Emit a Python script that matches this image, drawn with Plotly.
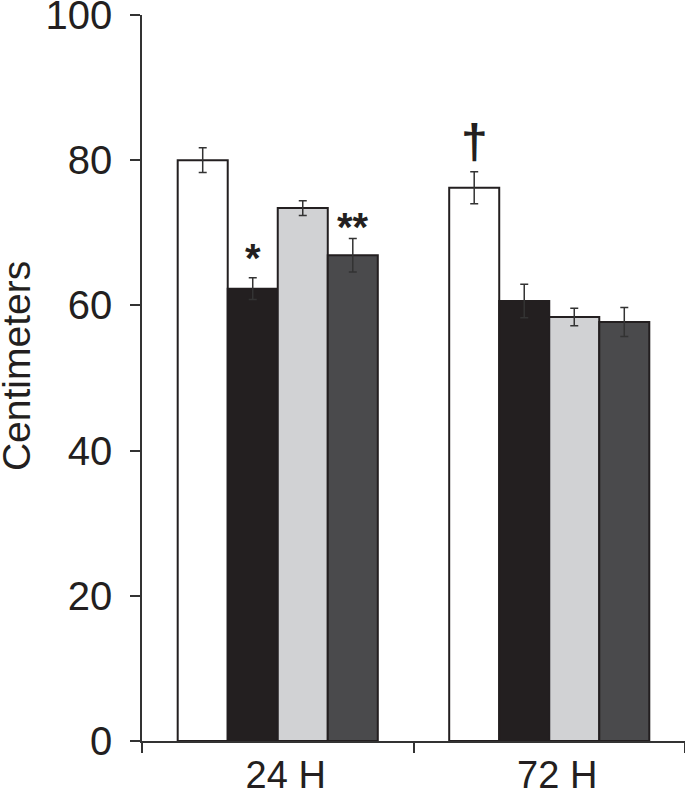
import plotly.graph_objects as go

categories = ["24 H", "72 H"]
series_names = ["Series A", "Series B", "Series C", "Series D"]
values = {
    "Series A": [80.0, 76.2],
    "Series B": [62.3, 60.6],
    "Series C": [73.4, 58.4],
    "Series D": [66.9, 57.7],
}
errors = {
    "Series A": [1.7, 2.2],
    "Series B": [1.5, 2.3],
    "Series C": [1.0, 1.2],
    "Series D": [2.3, 2.0],
}
colors = ["#ffffff", "#231f20", "#d1d2d4", "#4a4a4c"]
y_ticks = [0, 20, 40, 60, 80, 100]
# significance marks: (series index, category index, text)
marks = [(1, 0, "*"), (3, 0, "**"), (0, 1, "†")]

FONT = "Liberation Sans, Arial, Helvetica, sans-serif"
bargap = 0.263
mark_style = {"*": (40, -4), "**": (40, -12), "†": (48, 2)}  # (font size, yshift px)

fig = go.Figure()
for name, col in zip(series_names, colors):
    fig.add_trace(go.Bar(
        x=categories, y=values[name], name=name,
        marker=dict(color=col, line=dict(color="#231f20", width=2)),
        error_y=dict(type="data", array=errors[name], color="#333333",
                     thickness=1.5, width=4),
        showlegend=False, cliponaxis=False,
    ))

n = len(series_names)
gw = 1 - bargap
for si, ci, txt in marks:
    xc = ci - gw / 2 + (si + 0.5) * gw / n
    yv = values[series_names[si]][ci] + errors[series_names[si]][ci]
    fsize, ysh = mark_style[txt]
    fig.add_annotation(
        x=xc, y=yv, xref="x", yref="y", text="<b>" + txt + "</b>", showarrow=False,
        yanchor="bottom", yshift=ysh,
        font=dict(family=FONT, size=fsize, color="#231f20"),
    )

fig.add_annotation(
    x=-0.232, y=0.5165, xref="paper", yref="paper", text="Centimeters",
    textangle=-90, showarrow=False, xanchor="center", yanchor="middle",
    font=dict(family=FONT, size=39, color="#231f20"),
)

fig.update_layout(
    width=685, height=792,
    margin=dict(l=142, r=0, t=15, b=51, autoexpand=False),
    paper_bgcolor="white", plot_bgcolor="white",
    barmode="group", bargap=bargap, bargroupgap=0,
    font=dict(family=FONT, size=40, color="#231f20"),
)
fig.update_xaxes(
    type="category", range=[-0.5, 1.5], tickson="boundaries",
    showline=True, linecolor="#333333", linewidth=1.5,
    ticks="outside", ticklen=10, tickwidth=1.5, tickcolor="#333333",
    showgrid=False, zeroline=False, ticklabelshift=8, ticklabelstandoff=0,
    automargin=False,
    tickfont=dict(family=FONT, size=38, color="#231f20"),
)
fig.update_yaxes(
    range=[0, 100], tickvals=y_ticks,
    showline=True, linecolor="#333333", linewidth=1.5,
    ticks="outside", ticklen=10, tickwidth=1.5, tickcolor="#333333",
    showgrid=False, zeroline=False, ticklabelstandoff=10,
    automargin=False, ticklabeloverflow="allow",
    tickfont=dict(family=FONT, size=40, color="#231f20"),
)

fig.write_html(
    "out.html",
    config={"displayModeBar": False},
    post_script="document.body.style.margin='0px';document.body.style.overflow='hidden';",
)
